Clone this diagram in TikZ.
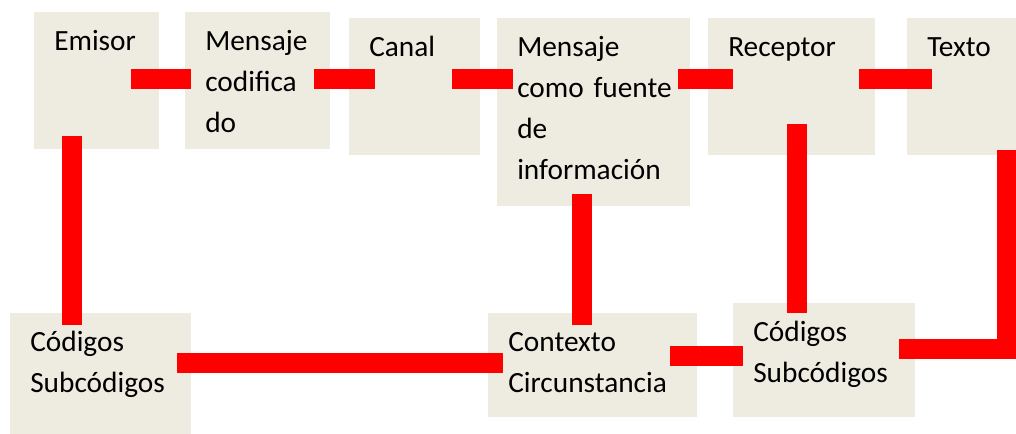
\documentclass[tikz,border=0pt]{standalone}
\usepackage{fontspec}
\setmainfont{Carlito}
\usepackage{tikz}
\usetikzlibrary{calc}
\newdimen\pxl
\pxl=0.75pt
\definecolor{fondo}{HTML}{EEECE1}
\definecolor{rojo}{HTML}{FF0000}
\tikzset{
caja/.style = {fill=fondo, anchor=north west, align=left, inner xsep=20\pxl, inner ysep=0pt, text height=38\pxl, font=\fontsize{22pt}{30.75pt}\selectfont},
barra/.style = {draw=rojo, line width=20\pxl, line cap=butt, line join=miter}
}
\begin{document}
\begin{tikzpicture}[x=0.75pt, y=-0.75pt]
\useasboundingbox (0,0) rectangle (1016,434);
\node[caja, text width=85\pxl, text depth=99\pxl] (emisor) at (34,12) {Emisor};
\node[caja, text width=105\pxl, text depth=99\pxl] (codificado) at (185,12) {Mensaje\\codifica\\do};
\node[caja, text width=91\pxl, text depth=99\pxl] (canal) at (349,18) {Canal};
\node[caja, text width=153\pxl, text depth=150\pxl] (fuente) at (497,18) {Mensaje\\como~fuente\\de\\información};
\node[caja, text width=127\pxl, text depth=99\pxl] (receptor) at (708,18) {Receptor};
\node[caja, text width=69\pxl, text depth=99\pxl] (texto) at (907,18) {Texto};
\node[caja, text width=141\pxl, text depth=83\pxl] (codigosA) at (10,313) {Códigos\\Subcódigos};
\node[caja, text width=169\pxl, text depth=66\pxl] (contexto) at (488,313) {Contexto\\Circunstancia};
\node[caja, text width=142\pxl, text depth=76\pxl] (codigosB) at (733,303) {Códigos\\Subcódigos};
\draw[barra] ($(emisor.north east)+(-29,67)$) -- ($(codificado.north west)+(6,67)$);
\draw[barra] ($(codificado.north east)+(-17,67)$) -- ($(canal.north west)+(26,61)$);
\draw[barra] ($(canal.north east)+(-29,61)$) -- ($(fuente.north west)+(16,61)$);
\draw[barra] ($(fuente.north east)+(-13,61)$) -- ($(receptor.north west)+(25,61)$);
\draw[barra] ($(receptor.north east)+(-17,61)$) -- ($(texto.north west)+(25,61)$);
\draw[barra] ($(emisor.south west)+(38,-14)$) -- ($(codigosA.north west)+(62,12)$);
\draw[barra] ($(codigosA.north east)+(-15,50)$) -- ($(contexto.north west)+(15,50)$);
\draw[barra] ($(fuente.south west)+(85,-13)$) -- ($(contexto.north west)+(94,12)$);
\draw[barra] ($(contexto.north east)+(-28,43)$) -- ($(codigosB.north west)+(10,53)$);
\draw[barra] ($(receptor.south west)+(89,-32)$) -- ($(codigosB.north west)+(64,10)$);
\draw[barra] ($(texto.south east)+(-10,-6)$) |- ($(codigosB.north east)+(-17,46)$);
\end{tikzpicture}
\end{document}
